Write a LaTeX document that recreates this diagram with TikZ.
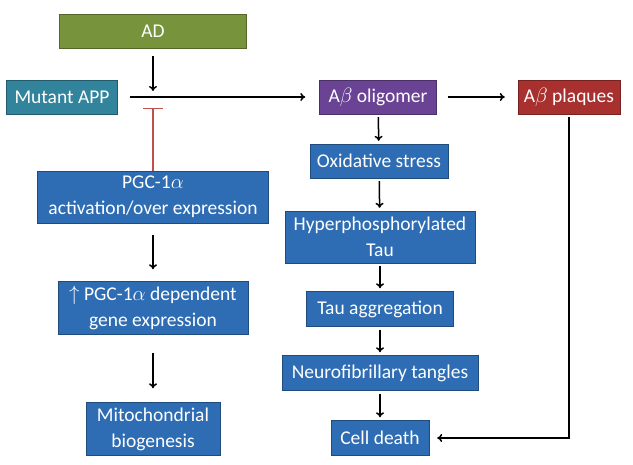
\documentclass[tikz,border=0pt]{standalone}
\usepackage{amsmath}
\usepackage{fontspec}
\setmainfont{Carlito}
\usetikzlibrary{arrows.meta}
\definecolor{adgreen}{HTML}{77933C}
\definecolor{appteal}{HTML}{31849B}
\definecolor{oligpurple}{HTML}{6A4394}
\definecolor{plqred}{HTML}{A8312F}
\definecolor{boxblue}{HTML}{2E6CB3}
\definecolor{inhred}{HTML}{C0504D}
\tikzset{
  box/.style={fill=boxblue, draw=boxblue!70!black, text=white, align=center,
    inner sep=2pt, font=\fontsize{19.5}{26}\selectfont},
  arr/.style={black, line width=1.5pt, -{To[length=5pt,width=8pt]}},
  inh/.style={inhred, line width=1.5pt, -{Bar[width=20pt,line width=1.5pt]}}
}
\begin{document}
\begin{tikzpicture}[x=1pt, y=-1pt]
\useasboundingbox (0,0) rectangle (633,465);
% top row
\node[box, fill=adgreen, draw=adgreen!70!black, minimum width=187pt, minimum height=34pt] (ad) at (153,31) {AD};
\node[box, fill=appteal, draw=appteal!70!black, minimum width=111pt, minimum height=34pt] (app) at (62,97) {Mutant APP};
\node[box, fill=oligpurple, draw=oligpurple!70!black, minimum width=117pt, minimum height=34pt] (olig) at (378,97) {A$\beta$ oligomer};
\node[box, fill=plqred, draw=plqred!70!black, minimum width=102pt, minimum height=34pt] (plq) at (569,97) {A$\beta$ plaques};
\coordinate (junc) at (153,98);
% left column
\node[box, minimum width=231pt, minimum height=52pt] (pgc) at (153,197) {PGC-1$\alpha$\\activation/over expression};
\node[box, minimum width=190pt, minimum height=53pt] (gene) at (153,308) {$\uparrow$ PGC-1$\alpha$ dependent\\gene expression};
\node[box, minimum width=134pt, minimum height=53pt] (mito) at (153,429) {Mitochondrial\\biogenesis};
% right column
\node[box, minimum width=138pt, minimum height=34pt] (oxi) at (379,161) {Oxidative stress};
\node[box, minimum width=190pt, minimum height=52pt] (hyper) at (380,237) {Hyperphosphorylated\\Tau};
\node[box, minimum width=147pt, minimum height=35pt] (agg) at (380,309) {Tau aggregation};
\node[box, minimum width=196pt, minimum height=35pt] (nft) at (380,373) {Neurofibrillary tangles};
\node[box, minimum width=98pt, minimum height=35pt] (cell) at (380,438) {Cell death};
% connectors
\draw[arr, shorten <=8pt, shorten >=7pt] (ad) -- (junc);
\draw[arr, shorten <=12pt, shorten >=14pt] (app) -- (olig);
\draw[inh, shorten >=10pt] (pgc) -- (junc);
\draw[arr, shorten <=11pt, shorten >=13pt] (olig) -- (plq);
\draw[arr, shorten <=12pt, shorten >=12pt] (pgc) -- (gene);
\draw[arr, shorten <=18pt, shorten >=14pt] (gene) -- (mito);
\foreach \a/\b in {olig/oxi, oxi/hyper, hyper/agg, agg/nft, nft/cell}{
  \draw[arr, shorten <=3pt, shorten >=3pt] (\a) -- (\b);
}
\draw[arr, shorten <=3pt, shorten >=8pt] (plq.south) |- (cell.east);
\end{tikzpicture}
\end{document}
